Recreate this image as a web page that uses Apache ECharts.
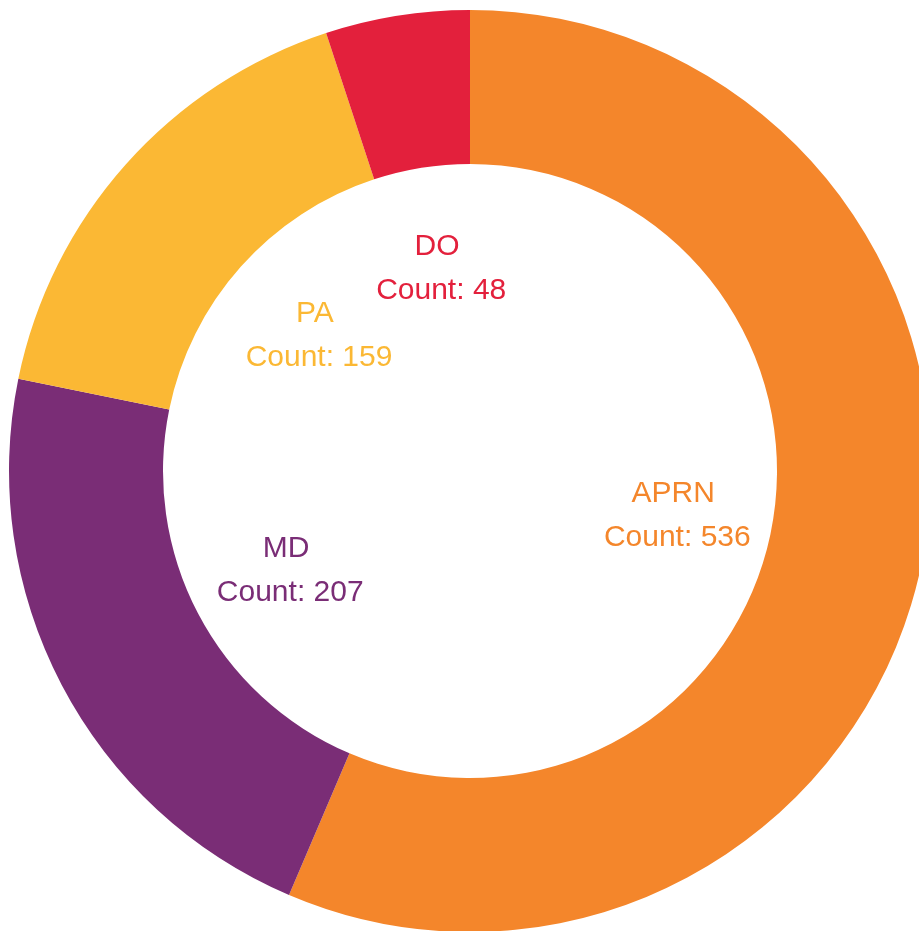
<!DOCTYPE html>
<html>
<head>
<meta charset="utf-8">
<script src="https://cdn.jsdelivr.net/npm/echarts@6/dist/echarts.min.js"></script>
<style>
html,body{margin:0;padding:0;background:#fff;}
#chart{width:919px;height:931px;}
</style>
</head>
<body>
<div id="chart"></div>
<script>
const categories = ['APRN', 'MD', 'PA', 'DO'];
const counts = [536, 207, 159, 48];
const colors = ['#F4862B', '#7A2D76', '#FBB834', '#E3203C'];

const chart = echarts.init(document.getElementById('chart'), null, {renderer: 'canvas'});
const center = [470, 471];

const ringData = categories.map((c, i) => ({
  name: c, value: counts[i], itemStyle: {color: colors[i]}
}));
const labelData = categories.map((c, i) => ({
  name: c, value: counts[i],
  itemStyle: {color: 'rgba(0,0,0,0)'},
  label: {color: colors[i]}
}));

chart.setOption({
  animation: false,
  backgroundColor: '#ffffff',
  series: [
    {
      type: 'pie',
      center: center,
      radius: [307, 461],
      startAngle: 90,
      clockwise: true,
      silent: true,
      label: {show: false},
      labelLine: {show: false},
      emphasis: {disabled: true},
      data: ringData
    },
    {
      type: 'pie',
      center: center,
      radius: [0, 409],
      startAngle: 90,
      clockwise: true,
      silent: true,
      avoidLabelOverlap: false,
      z: 3,
      emphasis: {disabled: true},
      labelLine: {show: false},
      labelLayout: {hideOverlap: false},
      label: {
        show: true,
        position: 'inside',
        formatter: '{b} \nCount: {c}',
        fontFamily: 'Liberation Sans, Arial, sans-serif',
        fontSize: 30,
        lineHeight: 44,
        align: 'center',
        offset: [4, 3],
        overflow: 'none'
      },
      data: labelData
    }
  ]
});
</script>
</body>
</html>
